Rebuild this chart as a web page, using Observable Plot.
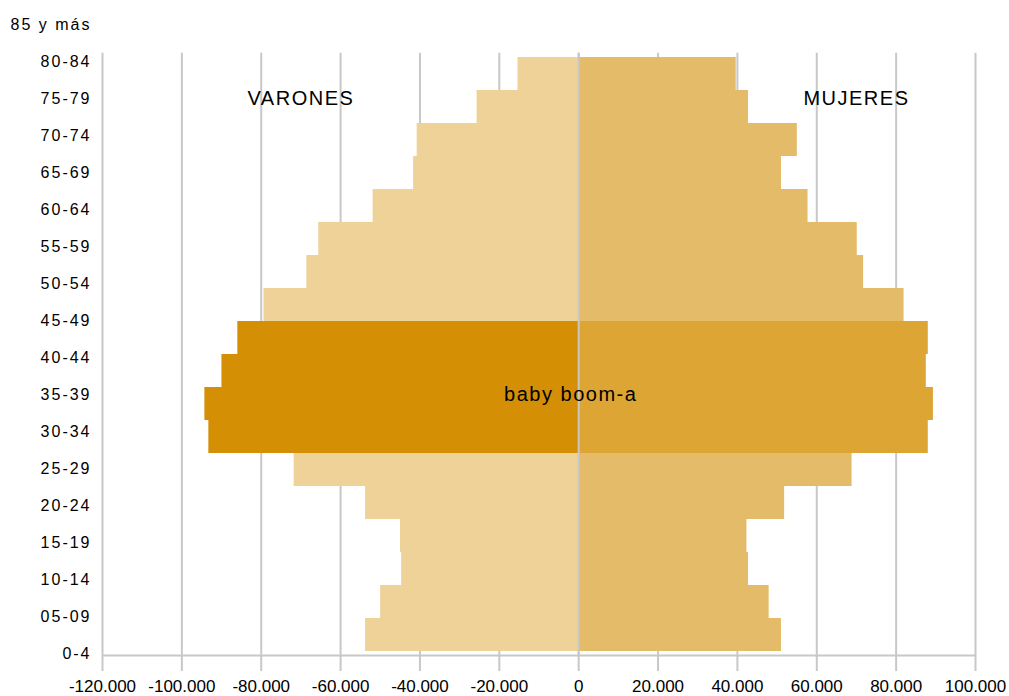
<!DOCTYPE html>
<html>
<head>
<meta charset="utf-8">
<script src="https://cdn.jsdelivr.net/npm/d3@7"></script>
<script src="https://cdn.jsdelivr.net/npm/@observablehq/plot@0.6"></script>
<style>
  html, body { margin: 0; padding: 0; background: #fff; }
  #chart { position: relative; width: 1009px; height: 696px; font-family: "Liberation Sans", Arial, sans-serif; }
  #chart svg { position: absolute; left: 0; top: 0; }
  #overlay text { letter-spacing: 1.5px; }
  #overlay [aria-label="y-axis tick label"] text { letter-spacing: 2px; }
</style>
</head>
<body>
<div id="chart"></div>
<script>
// Age groups, top to bottom
const ages = ["85 y más","80-84","75-79","70-74","65-69","60-64","55-59","50-54","45-49","40-44","35-39","30-34","25-29","20-24","15-19","10-14","05-09","0-4"];
// Men (drawn to the left) and women (to the right)
const varones = [15300, 25600, 40700, 41600, 51800, 65500, 68500, 79300, 85900, 89900, 94200, 93200, 71700, 53700, 44900, 44600, 49900, 53700];
const mujeres = [39700, 42800, 55100, 51100, 57800, 70200, 71800, 82000, 88100, 87600, 89400, 88100, 68900, 51900, 42400, 42800, 48000, 51100];
// Highlighted generation
const babyBoom = ["45-49","40-44","35-39","30-34"];
// X tick values
const xTicks = [-120000,-100000,-80000,-60000,-40000,-20000,0,20000,40000,60000,80000,100000];
// Annotations
const notes = [
  {text: "VARONES", x: -70000, age: "75-79"},
  {text: "MUJERES", x: 70000, age: "75-79"},
  {text: "baby boom-a", x: -2000, age: "35-39"}
];
const groups = ["Varones","Varones baby boom","Mujeres","Mujeres baby boom"];
const palette = ["#EED298","#D58F05","#E4BB68","#DDA533"];

const rows = ages.flatMap((a, i) => [
  {age: a, value: -varones[i], group: babyBoom.includes(a) ? "Varones baby boom" : "Varones"},
  {age: a, value: mujeres[i], group: babyBoom.includes(a) ? "Mujeres baby boom" : "Mujeres"}
]);

const fmt = d3.formatLocale({decimal: ",", thousands: ".", grouping: [3], currency: ["", ""], minus: "-"}).format(",d");

const W = 1009, H = 696, ML = 102, MR = 34, MB = 41;
const grid = "#c8c8c8";

const main = Plot.plot({
  width: W, height: H,
  marginTop: 52.7, marginBottom: MB, marginLeft: ML, marginRight: MR,
  style: {fontFamily: "'Liberation Sans', Arial, sans-serif", fontSize: "17px", color: "#000", background: "transparent", overflow: "visible"},
  x: {domain: [-120000, 100000], axis: null},
  y: {type: "band", domain: ages, padding: 0, axis: null},
  color: {domain: groups, range: palette},
  marks: [
    Plot.ruleX(xTicks, {stroke: grid, strokeWidth: 2}),
    Plot.barX(rows, {x: "value", y: "age", fill: "group", inset: 0}),
    Plot.ruleX([0], {stroke: grid, strokeWidth: 2}),
    Plot.axisX({ticks: xTicks, tickFormat: fmt, tickSize: 16, tickPadding: 8, stroke: grid, strokeWidth: 2, fill: "#000", fontSize: 17, label: null})
  ]
});

const overlay = Plot.plot({
  width: W, height: H,
  marginTop: 22.7, marginBottom: MB, marginLeft: ML, marginRight: MR,
  style: {fontFamily: "'Liberation Sans', Arial, sans-serif", fontSize: "16px", color: "#000", background: "transparent", overflow: "visible"},
  x: {domain: [-120000, 100000], axis: null},
  y: {type: "point", domain: ages, padding: 0, axis: null},
  marks: [
    Plot.ruleY(["0-4"], {dy: 2, stroke: grid, strokeWidth: 2}),
    Plot.axisY({tickSize: 0, tickPadding: 11, fill: "#000", fontSize: 16, label: null}),
    Plot.text(notes, {x: "x", y: "age", text: "text", fontSize: 20, fill: "#000"})
  ]
});
overlay.id = "overlay";
overlay.style.pointerEvents = "none";

const chart = document.getElementById("chart");
chart.appendChild(main);
chart.appendChild(overlay);
</script>
</body>
</html>
